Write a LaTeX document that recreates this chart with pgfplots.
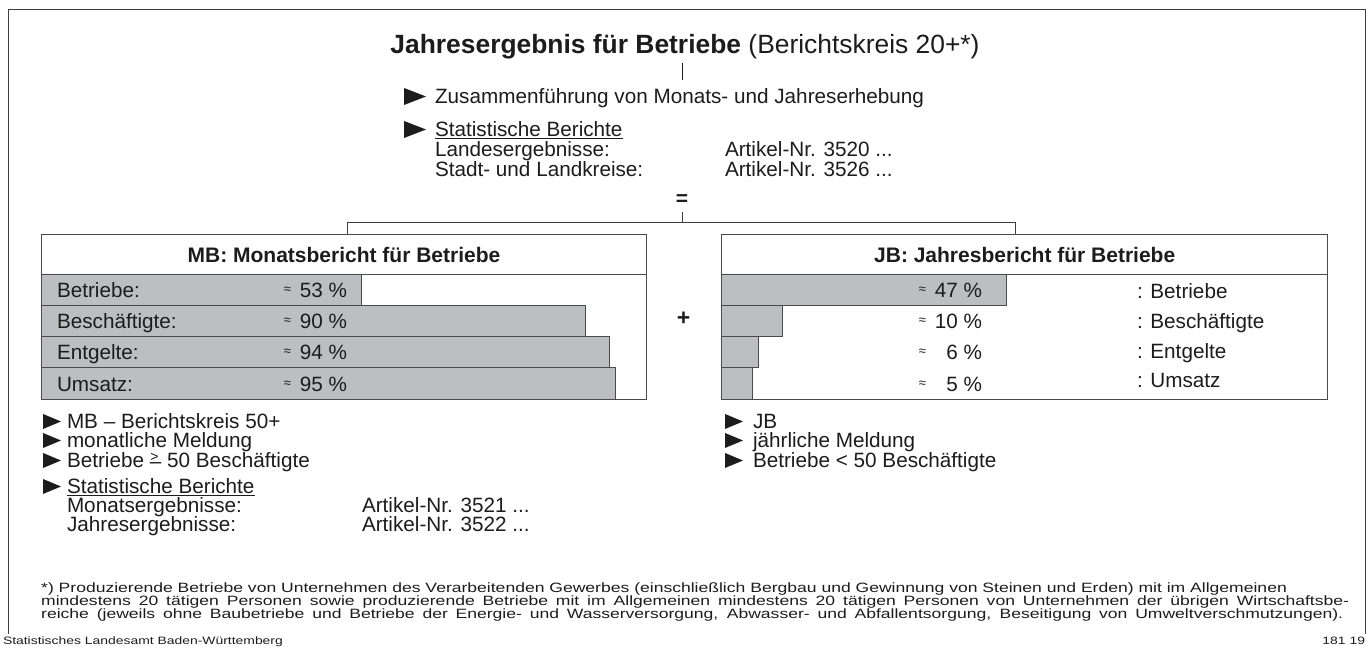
\documentclass[border=0pt]{standalone}
\usepackage{pgfplots}
\pgfplotsset{compat=1.18}
\usepackage{pgfplotstable}
\usepackage{fontspec}
\setmainfont{Liberation Sans}[Ligatures=TeX]
\newfontfamily\footf{Liberation Sans}[FakeStretch=1.3]
\definecolor{bargray}{HTML}{BDBEC1}
\definecolor{edgegray}{HTML}{4A4A4A}
\definecolor{ink}{HTML}{1C1C1C}
\newcommand{\bt}{\fontsize{20.7}{22}\selectfont}
\newcommand{\hb}{\bfseries\fontsize{21}{22}\selectfont}
\newcommand{\ap}{{\fontsize{13}{13}\selectfont ≈}}
\newcommand{\gesym}{\ooalign{\raisebox{6pt}{\fontsize{14}{14}\selectfont\kern0.5pt>}\cr\raisebox{-1pt}{–}}}

\pgfplotstableread{
row val
1 53
2 90
3 94
4 95
}\mbdata
\pgfplotstableread{
row val
1 47
2 10
3 6
4 5
}\jbdata

\pgfplotsset{boxbars/.style={
  anchor=south west, scale only axis, width=605pt, height=125pt,
  xmin=0, xmax=100, ymin=0.5, ymax=4.5, y dir=reverse,
  hide axis, xbar, bar width=1, clip=false}}

\begin{document}
\begin{tikzpicture}
\path[use as bounding box] (0,0) rectangle (1372pt,652pt);
% MB axis (rows area: x 41..646, y 274..399 from top)
\begin{axis}[boxbars, at={(41pt,253pt)}]
\addplot[fill=bargray, draw=edgegray, line width=0.8pt] table[x=val, y=row] {\mbdata};
\end{axis}
% JB axis
\begin{axis}[boxbars, at={(721.7pt,253pt)}, width=606pt]
\addplot[fill=bargray, draw=edgegray, line width=0.8pt] table[x=val, y=row] {\jbdata};
\end{axis}

\begin{scope}[x=1pt, y=-1pt, yshift=652pt, every node/.style={inner sep=0pt, outer sep=0pt, text=ink}]
% frame
\draw[line width=0.9pt, ink!85] (8,634) -- (8,9.5) -- (1365,9.5) -- (1365,634);

% title block
\node[anchor=base, font=\fontsize{26.4}{28}\selectfont] at (685,54) {\textbf{Jahresergebnis für Betriebe} (Berichtskreis 20+*)};
\draw[line width=0.7pt, ink] (682,63) -- (682,80);
\fill[ink] (404,88) -- (404,105) -- (426,96.5) -- cycle;
\node[anchor=base west, font=\bt] at (435,104) {Zusammenführung von Monats- und Jahreserhebung};
\fill[ink] (404,121) -- (404,138) -- (426,129.5) -- cycle;
\node[anchor=base west, font=\bt] at (435,137) {\underline{Statistische Berichte}};
\node[anchor=base west, font=\bt] at (435,157) {Landesergebnisse:};
\node[anchor=base west, font=\bt] at (725,157) {Artikel-Nr. 3520 ...};
\node[anchor=base west, font=\bt] at (435,177) {Stadt- und Landkreise:};
\node[anchor=base west, font=\bt] at (725,177) {Artikel-Nr. 3526 ...};
\node[anchor=base, font=\bfseries\fontsize{21}{21}\selectfont] at (682,206) {=};

% connectors
\draw[line width=0.8pt, ink!85] (682,212) -- (682,222);
\draw[line width=0.8pt, ink!85] (347,234) -- (347,222) -- (1015,222) -- (1015,234);

% boxes
\draw[line width=0.8pt, edgegray] (41,234) rectangle (646,399);
\draw[line width=0.8pt, edgegray] (41,274) -- (646,274);
\draw[line width=0.8pt, edgegray] (721.7,234) rectangle (1327.7,399);
\draw[line width=0.8pt, edgegray] (721.7,274) -- (1327.7,274);
\node[anchor=base, font=\hb] at (344,263) {MB: Monatsbericht für Betriebe};
\node[anchor=base, font=\hb] at (1024.7,263) {JB: Jahresbericht für Betriebe};
\node[font=\bfseries\fontsize{23}{23}\selectfont] at (683.5,319) {+};

% MB row labels
\foreach \lab/\num/\yc in {Betriebe:/53/290, Beschäftigte:/90/321.3, Entgelte:/94/352.5, Umsatz:/95/383.8}{
  \node[anchor=base west, font=\bt] at (57,\yc+7.5) {\lab};
  \node[anchor=center] at (287.5,\yc) {\ap};
  \node[anchor=base east, font=\bt] at (347,\yc+7.5) {\num\ \%};
}
% JB row labels
\foreach \num/\yc in {47/290.5, 10/321.5, 6/352.5, 5/384}{
  \node[anchor=center] at (922.5,\yc) {\ap};
  \node[anchor=base east, font=\bt] at (982,\yc+7.5) {\num\ \%};
}
\foreach \lab/\yy in {Betriebe/298.5, Beschäftigte/329, Entgelte/359, Umsatz/387.5}{
  \node[anchor=base west, font=\bt] at (1137,\yy) {: \lab};
}

% bottom-left bullets
\foreach \yy in {429,448,468,494}{\fill[ink] (43,\yy-15) -- (43,\yy) -- (61,\yy-7.5) -- cycle;}
\node[anchor=base west, font=\bt] at (67,429) {MB – Berichtskreis 50+};
\node[anchor=base west, font=\bt] at (67,448) {monatliche Meldung};
\node[anchor=base west, font=\bt] at (67,468) {Betriebe \gesym\ 50 Beschäftigte};
\node[anchor=base west, font=\bt] at (67,494) {\underline{Statistische Berichte}};
\node[anchor=base west, font=\bt] at (67,513) {Monatsergebnisse:};
\node[anchor=base west, font=\bt] at (362,513) {Artikel-Nr. 3521 ...};
\node[anchor=base west, font=\bt] at (67,532) {Jahresergebnisse:};
\node[anchor=base west, font=\bt] at (362,532) {Artikel-Nr. 3522 ...};

% bottom-right bullets
\foreach \yy in {429,448,468}{\fill[ink] (725,\yy-15) -- (725,\yy) -- (743,\yy-7.5) -- cycle;}
\node[anchor=base west, font=\bt] at (753,429) {JB};
\node[anchor=base west, font=\bt] at (753,448) {jährliche Meldung};
\node[anchor=base west, font=\bt] at (753,468) {Betriebe < 50 Beschäftigte};

% footnote
\begin{scope}[every node/.style={anchor=base west, inner sep=0pt, text=ink, font=\footf\fontsize{13.5}{13.5}\selectfont}]
\node at (41,593) {*) Produzierende Betriebe von Unternehmen des Verarbeitenden Gewerbes (einschließlich Bergbau und Gewinnung von Steinen und Erden) mit im Allgemeinen};
\node at (41,606) {\makebox[1308pt][s]{mindestens 20 tätigen Personen sowie produzierende Betriebe mit im Allgemeinen mindestens 20 tätigen Personen von Unternehmen der übrigen Wirtschaftsbe-}};
\node at (41,619) {\makebox[1302pt][s]{reiche (jeweils ohne Baubetriebe und Betriebe der Energie- und Wasserversorgung, Abwasser- und Abfallentsorgung, Beseitigung von Umweltverschmutzungen).}};
\end{scope}
\node[anchor=base west, font=\footf\fontsize{10.7}{11}\selectfont] at (3,645) {Statistisches Landesamt Baden-Württemberg};
\node[anchor=base east, font=\footf\fontsize{10.7}{11}\selectfont] at (1365,645) {181 19};
\end{scope}
\end{tikzpicture}
\end{document}
